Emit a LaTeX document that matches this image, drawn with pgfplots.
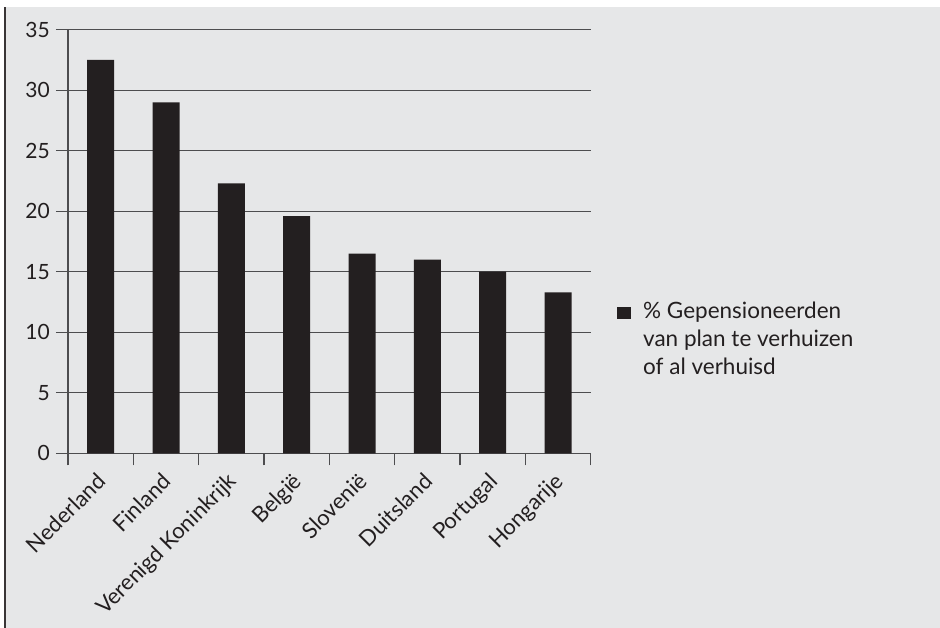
\documentclass[border=0pt]{standalone}
\usepackage{fontspec}
\setmainfont{Lato}
\usepackage{pgfplots}
\pgfplotsset{compat=1.18}

\definecolor{panel}{HTML}{E6E7E8}
\definecolor{ink}{HTML}{231F20}
\definecolor{rulegray}{HTML}{4D4D4F}

\begin{document}
\begin{tikzpicture}[x=1bp,y=1bp]
  \path[use as bounding box] (0,0) rectangle (940,628);
  \fill[white] (0,0) rectangle (940,628);
  \fill[panel] (4,0) rectangle (940,621);
  \draw[ink!90, line width=2bp] (5,0) -- (5,621);
  \begin{axis}[
    at={(68bp,174.7bp)}, anchor=south west,
    scale only axis, width=522.7bp, height=423.6bp,
    xmin=0, xmax=8, ymin=0, ymax=35,
    axis lines=left,
    axis line style={-, rulegray, line width=1.3bp},
    tick style={rulegray, line width=1.3bp},
    tick align=outside,
    major tick length=12bp,
    ytick={0,5,...,35},
    ymajorgrids,
    grid style={rulegray, line width=1.3bp},
    xtick={0,1,...,8},
    xticklabels={},
    extra x ticks={0.5,1.5,...,7.5},
    extra x tick labels={Nederland,Finland,Verenigd Koninkrijk,België,Slovenië,Duitsland,Portugal,Hongarije},
    extra x tick style={
      major tick length=0pt, grid=none,
      % shift first (in page axes), then turn the label about its end
      xticklabel style={xshift=-5bp, yshift=-18bp, rotate=45,
        anchor=north east, inner sep=0pt,
        font=\fontsize{22bp}{26bp}\selectfont}
    },
    /pgf/number format/assume math mode=true,
    ticklabel style={font=\fontsize{21bp}{25bp}\selectfont, text=ink},
    yticklabel style={inner sep=0pt, xshift=-6bp},
    legend style={
      at={(1.0503,0.369)}, anchor=north west,
      draw=none, fill=none, inner sep=0pt,
      font=\fontsize{22.5bp}{28bp}\selectfont,
      text=ink,
      legend cell align=left,
      /tikz/every odd column/.append style={column sep=10bp},
    },
    legend image code/.code={\fill[ink] (0bp,-9bp) rectangle (14bp,3bp);},
  ]
    \addplot[ybar, bar width=27bp, fill=ink, draw=none, bar shift=0pt]
      coordinates {(0.5,32.5) (1.5,29.0) (2.5,22.3) (3.5,19.6)
                   (4.5,16.5) (5.5,16.0) (6.5,15.0) (7.5,13.3)};
    \addlegendentry{\begin{tabular}[t]{@{}l@{}}\% Gepensioneerden\\van plan te verhuizen\\of al verhuisd\end{tabular}}
  \end{axis}
\end{tikzpicture}
\end{document}
